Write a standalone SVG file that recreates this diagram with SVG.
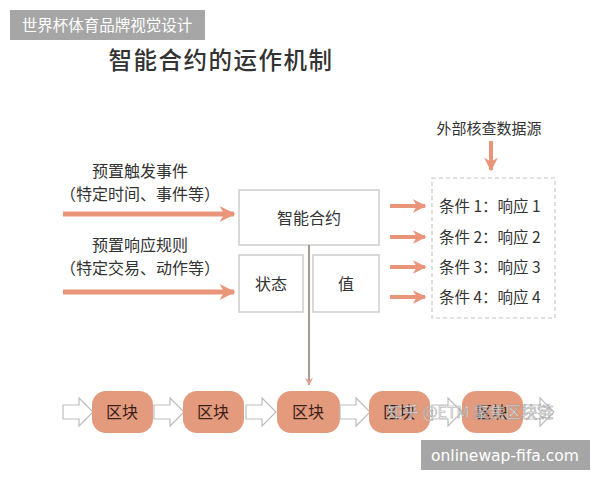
<svg xmlns="http://www.w3.org/2000/svg" width="600" height="480" viewBox="0 0 600 480">
<style>
text{font-family:"Noto Sans CJK SC","Noto Sans",sans-serif;fill:#333}
.box{fill:#fff;stroke:#d0cccc;stroke-width:1.5}
.lbl{font-size:16px;text-anchor:middle}
.cond{font-size:15.5px}
.arr{stroke:#e8957a;stroke-width:5;fill:none}
.arrs{stroke:#e8957a;stroke-width:4;fill:none}
.blk{fill:#e49a7c}
.btx{font-size:16px;text-anchor:middle;fill:#3a2018}
.hol{fill:#fff;stroke:#bdbdbd;stroke-width:1.2}
.tag{fill:#a6a6a6}
</style>
<defs>
<marker id="ah" viewBox="0 0 10 10" refX="9" refY="5" markerWidth="3.2" markerHeight="3.6" orient="auto" markerUnits="strokeWidth"><path d="M0,0 L10,5 L0,10 L3,5 Z" fill="#e8957a"/></marker>
<marker id="ahs" viewBox="0 0 10 10" refX="9" refY="5" markerWidth="3.4" markerHeight="3.8" orient="auto" markerUnits="strokeWidth"><path d="M0,0 L10,5 L0,10 L3,5 Z" fill="#e8957a"/></marker>
<marker id="ahv" viewBox="0 0 10 10" refX="9" refY="5" markerWidth="8" markerHeight="8" orient="auto" markerUnits="userSpaceOnUse"><path d="M0,0 L10,5 L0,10 L3,5 Z" fill="#e0a090"/></marker>
<path id="hollow" d="M0,-7 H16 V-14 L30,0 L16,14 V7 H0 Z"/>
</defs>
<rect width="600" height="480" fill="#fff"/>
<g id="tag-top"><rect class="tag" x="10" y="10" width="195" height="30"/><text x="107" y="31" font-size="15.5" text-anchor="middle" style="fill:#fff">世界杯体育品牌视觉设计</text></g>
<text id="title" x="221" y="69" font-size="23.5" font-weight="500" text-anchor="middle" letter-spacing="1.5">智能合约的运作机制</text>
<g id="in1"><text class="lbl" x="140" y="177">预置触发事件</text><text class="lbl" x="140" y="200">（特定时间、事件等）</text></g>
<g id="in2"><text class="lbl" x="140" y="251">预置响应规则</text><text class="lbl" x="140" y="274">（特定交易、动作等）</text></g>
<g id="contract"><rect class="box" x="239" y="190" width="140" height="55"/><text class="lbl" x="309" y="224">智能合约</text></g>
<g id="state"><rect class="box" x="239" y="255" width="64" height="57"/><text class="lbl" x="271" y="290">状态</text></g>
<g id="value"><rect class="box" x="313" y="255" width="66" height="57"/><text class="lbl" x="346" y="290">值</text></g>
<g id="ext"><text x="489" y="134" font-size="15" text-anchor="middle">外部核查数据源</text></g>
<g id="conds"><rect x="432" y="178" width="123" height="140" fill="#fff" stroke="#c8c8c8" stroke-width="1.2" stroke-dasharray="4 3"/>
<text class="cond" x="439" y="212">条件 1：响应 1</text>
<text class="cond" x="439" y="243">条件 2：响应 2</text>
<text class="cond" x="439" y="273">条件 3：响应 3</text>
<text class="cond" x="439" y="303">条件 4：响应 4</text></g>
<g id="chain">
<use href="#hollow" class="hol" x="63" y="412"/>
<g id="b1"><rect class="blk" x="92" y="391" width="61" height="42" rx="14"/><text class="btx" x="122" y="418">区块</text></g>
<use href="#hollow" class="hol" x="154" y="412"/>
<g id="b2"><rect class="blk" x="183" y="391" width="61" height="42" rx="14"/><text class="btx" x="213" y="418">区块</text></g>
<use href="#hollow" class="hol" x="246" y="412"/>
<g id="b3"><rect class="blk" x="277" y="391" width="63" height="42" rx="14"/><text class="btx" x="308" y="418">区块</text></g>
<use href="#hollow" class="hol" x="340" y="412"/>
<g id="b4"><rect class="blk" x="369" y="391" width="61" height="42" rx="14"/><text class="btx" x="399" y="418">区块</text></g>
<use href="#hollow" class="hol" x="432" y="412"/>
<g id="b5"><rect class="blk" x="462" y="391" width="61" height="42" rx="14"/><text class="btx" x="492" y="418">区块</text></g>
<use href="#hollow" class="hol" x="524" y="412"/>
</g>
<g id="connectors">
<line class="arr" x1="63" y1="214" x2="234" y2="214" marker-end="url(#ah)"/>
<line class="arr" x1="63" y1="292" x2="234" y2="292" marker-end="url(#ah)"/>
<line class="arrs" x1="390" y1="206" x2="425" y2="206" marker-end="url(#ahs)"/>
<line class="arrs" x1="390" y1="237" x2="425" y2="237" marker-end="url(#ahs)"/>
<line class="arrs" x1="390" y1="267" x2="425" y2="267" marker-end="url(#ahs)"/>
<line class="arrs" x1="390" y1="297" x2="425" y2="297" marker-end="url(#ahs)"/>
<line class="arrs" x1="491" y1="141" x2="491" y2="170" marker-end="url(#ahs)"/>
<line x1="309" y1="245" x2="309" y2="385" stroke="#a89a98" stroke-width="2" marker-end="url(#ahv)"/>
</g>
<text id="wm" x="470" y="418" font-size="16" text-anchor="middle" style="fill:#fff;stroke:#999;stroke-width:0.6;opacity:0.85">知乎 @ETM 聚焦区块链</text>
<g id="tag-bot"><rect class="tag" x="421" y="440" width="169" height="30"/><text x="505" y="461" font-size="16" text-anchor="middle" textLength="148" lengthAdjust="spacingAndGlyphs" style="fill:#fff;font-family:'DejaVu Sans',sans-serif">onlinewap-fifa.com</text></g>
</svg>
